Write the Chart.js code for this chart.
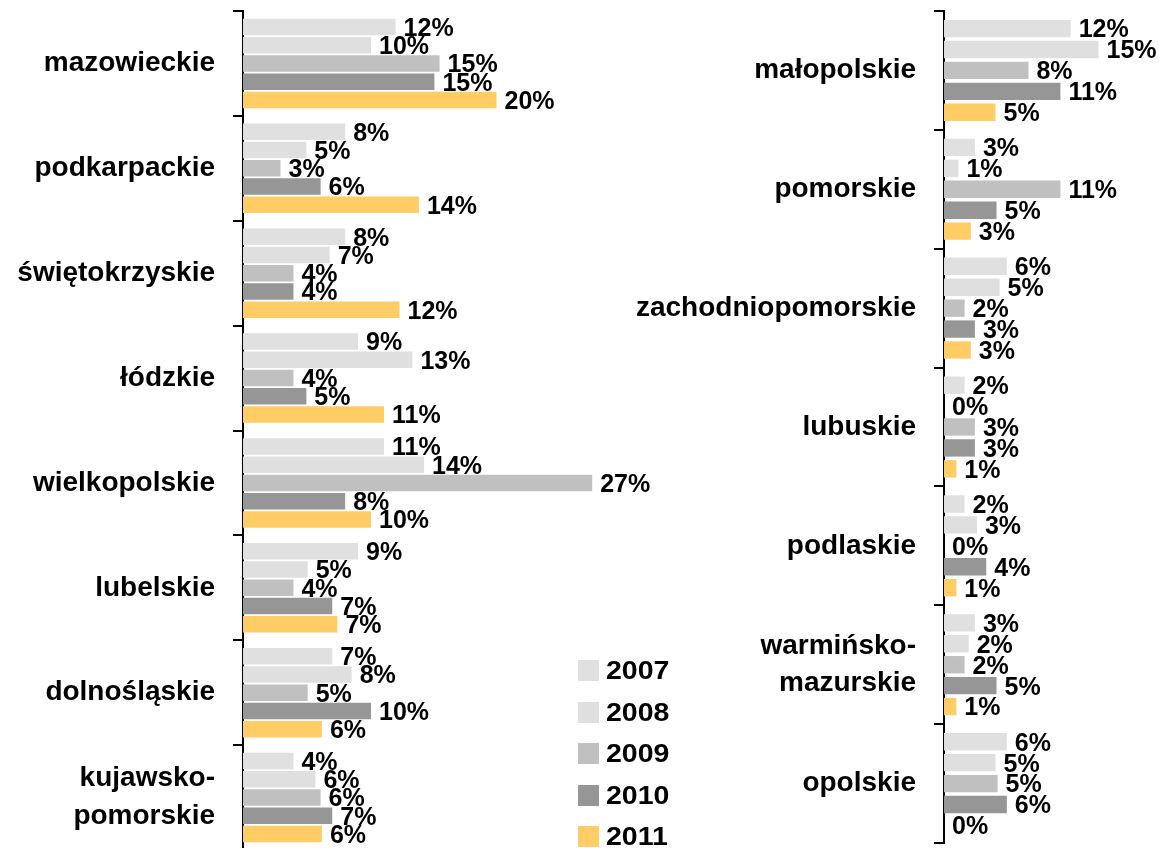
<!DOCTYPE html>
<html>
<head>
<meta charset="utf-8">
<script src="https://cdn.jsdelivr.net/npm/chart.js@4"></script>
<style>
  html, body { margin: 0; padding: 0; background: #fff; overflow: hidden; }
  body { width: 1159px; height: 848px; position: relative; font-family: "Liberation Sans", Arial, sans-serif; }
  #leftWrap { position: absolute; left: 0; top: 0; width: 700px; height: 850px; }
  #rightWrap { position: absolute; left: 560px; top: 0; width: 599px; height: 852px; }
  #legend { position: absolute; left: 578px; top: 659px; }
  .item { height: 41.5px; display: flex; align-items: flex-start; }
  .box { width: 21px; height: 21px; margin-top: 1px; }
  .lbl { font-weight: bold; font-size: 25px; line-height: 23px; margin-left: 7px; color: #000;
         display: inline-block; transform: scaleX(1.14); transform-origin: left center; }
</style>
</head>
<body>
<div id="leftWrap"><canvas id="leftChart"></canvas></div>
<div id="rightWrap"><canvas id="rightChart"></canvas></div>
<div id="legend"></div>
<script>
const years = ['2007', '2008', '2009', '2010', '2011'];
const colors = ['#e0e0e0', '#dfdfdf', '#c0c0c0', '#969696', '#ffcc66'];

// left panel
const leftRegions = ['mazowieckie', 'podkarpackie', 'świętokrzyskie', 'łódzkie', 'wielkopolskie',
  'lubelskie', 'dolnośląskie', ['kujawsko-', 'pomorskie']];
const left2007 = [11.8, 7.9, 7.9, 8.9, 10.9, 8.9, 6.9, 3.9];
const left2008 = [9.9, 4.9, 6.7, 13.1, 14.0, 5.0, 8.4, 5.6];
const left2009 = [15.2, 2.9, 3.9, 3.9, 27.0, 3.9, 5.0, 6.0];
const left2010 = [14.8, 6.0, 3.9, 4.9, 7.9, 6.9, 9.9, 6.9];
const left2011 = [19.6, 13.6, 12.1, 10.9, 9.9, 7.3, 6.1, 6.1];

// right panel
const rightRegions = ['małopolskie', 'pomorskie', 'zachodniopomorskie', 'lubuskie', 'podlaskie',
  ['warmińsko-', 'mazurskie'], 'opolskie'];
const right2007 = [12.3, 3.0, 6.1, 2.0, 2.0, 3.0, 6.1];
const right2008 = [15.0, 1.4, 5.4, 0, 3.2, 2.4, 5.0];
const right2009 = [8.2, 11.3, 2.0, 3.0, 0, 2.0, 5.2];
const right2010 = [11.3, 5.1, 3.0, 3.0, 4.1, 5.1, 6.1];
const right2011 = [5.0, 2.6, 2.6, 1.2, 1.2, 1.2, 0];

Chart.defaults.font.family = '"Liberation Sans", Arial, sans-serif';
Chart.defaults.color = '#000';

const valueLabels = {
  id: 'valueLabels',
  afterDatasetsDraw(chart) {
    const ctx = chart.ctx;
    ctx.save();
    ctx.font = 'bold 25px "Liberation Sans", Arial, sans-serif';
    ctx.fillStyle = '#000';
    ctx.textAlign = 'left';
    ctx.textBaseline = 'middle';
    chart.data.datasets.forEach((ds, di) => {
      const meta = chart.getDatasetMeta(di);
      meta.data.forEach((bar, i) => {
        ctx.fillText(Math.round(ds.data[i]) + '%', bar.x + 8, bar.y + 2);
      });
    });
    ctx.restore();
  }
};

function makeChart(id, labels, series, opts) {
  const datasets = series.map((data, i) => ({
    label: years[i],
    data: data,
    backgroundColor: colors[i],
    borderWidth: 0,
    categoryPercentage: opts.catPct,
    barPercentage: opts.barPct
  }));
  return new Chart(document.getElementById(id), {
    type: 'bar',
    data: { labels: labels, datasets: datasets },
    plugins: [valueLabels],
    options: {
      indexAxis: 'y',
      responsive: true,
      maintainAspectRatio: false,
      animation: false,
      layout: { padding: { top: opts.top, bottom: opts.bottom, left: 0, right: opts.right } },
      plugins: { legend: { display: false }, tooltip: { enabled: false } },
      scales: {
        x: { display: false, min: 0, max: opts.xMax },
        y: {
          afterFit: (s) => { s.width = opts.axisX; s.paddingTop = 0; s.paddingBottom = 0; },
          border: { color: '#000', width: 2 },
          grid: { drawOnChartArea: false, color: '#000', lineWidth: 2, tickLength: 10 },
          ticks: {
            padding: 18,
            color: '#000',
            font: { size: 28, weight: 'bold', lineHeight: 1.35 }
          }
        }
      }
    }
  });
}

makeChart('leftChart', leftRegions, [left2007, left2008, left2009, left2010, left2011],
  { catPct: 0.87, barPct: 0.9, top: 11, bottom: 0, right: 69, xMax: 30, axisX: 243 });

makeChart('rightChart', rightRegions, [right2007, right2008, right2009, right2010, right2011],
  { catPct: 0.88, barPct: 0.83, top: 11, bottom: 9, right: 9, xMax: 20, axisX: 384 });

// legend
const legend = document.getElementById('legend');
years.forEach((y, i) => {
  const row = document.createElement('div');
  row.className = 'item';
  const box = document.createElement('div');
  box.className = 'box';
  box.style.background = colors[i];
  const lbl = document.createElement('span');
  lbl.className = 'lbl';
  lbl.textContent = y;
  row.appendChild(box);
  row.appendChild(lbl);
  legend.appendChild(row);
});
</script>
</body>
</html>
